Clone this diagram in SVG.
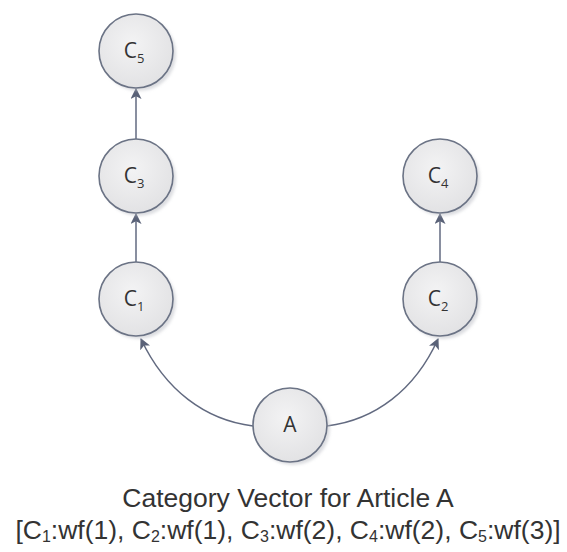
<svg xmlns="http://www.w3.org/2000/svg" width="567" height="552" viewBox="0 0 567 552">
<style>
.node circle.c{fill:url(#g);stroke:#6b7385;stroke-width:1.6}
.node circle.s{fill:#bfc1c8;opacity:0.55;filter:url(#blur)}
.node text{font-family:"Open Sans","Liberation Sans",sans-serif;font-size:21px;fill:#333;text-anchor:middle}
.node tspan.sub{font-size:13px}
.edge{fill:none;stroke:#626a80;stroke-width:1.5;marker-end:url(#ar)}
.cap{font-family:"Liberation Sans",Arial,sans-serif;font-size:26.5px;fill:#333;text-anchor:middle}
.cap tspan.sub{font-size:16px}
</style>
<defs>
<radialGradient id="g" cx="0.45" cy="0.4" r="0.65">
<stop offset="0" stop-color="#f3f3f4"/>
<stop offset="1" stop-color="#e1e1e3"/>
</radialGradient>
<filter id="blur" x="-20%" y="-20%" width="140%" height="140%"><feGaussianBlur stdDeviation="1.5"/></filter>
<marker id="ar" viewBox="0 0 10 10" refX="9" refY="5" markerWidth="11" markerHeight="11" markerUnits="userSpaceOnUse" orient="auto">
<path d="M0,0 L10,5 L0,10 L2.5,5 Z" fill="#5a6278"/>
</marker>
</defs>
<rect width="567" height="552" fill="#fff"/>
<g id="connectors">
<line class="edge" x1="136" y1="139" x2="136" y2="89"/>
<line class="edge" x1="136" y1="262" x2="136" y2="214"/>
<line class="edge" x1="440" y1="262" x2="440" y2="214"/>
<path class="edge" d="M253,426 C205,420 165,390 141,339"/>
<path class="edge" d="M327,426 C375,420 415,390 438,339"/>
</g>
<g id="C5" class="node"><circle class="s" cx="139" cy="54" r="37"/><circle class="c" cx="136" cy="51" r="37"/><text x="134" y="58">C<tspan class="sub" dy="5">5</tspan></text></g>
<g id="C3" class="node"><circle class="s" cx="139" cy="179" r="37"/><circle class="c" cx="136" cy="176" r="37"/><text x="134" y="183">C<tspan class="sub" dy="5">3</tspan></text></g>
<g id="C1" class="node"><circle class="s" cx="139" cy="302" r="37"/><circle class="c" cx="136" cy="299" r="37"/><text x="134" y="306">C<tspan class="sub" dy="5">1</tspan></text></g>
<g id="C4" class="node"><circle class="s" cx="443" cy="179" r="37"/><circle class="c" cx="440" cy="176" r="37"/><text x="438" y="183">C<tspan class="sub" dy="5">4</tspan></text></g>
<g id="C2" class="node"><circle class="s" cx="443" cy="302" r="37"/><circle class="c" cx="440" cy="299" r="37"/><text x="438" y="306">C<tspan class="sub" dy="5">2</tspan></text></g>
<g id="A" class="node"><circle class="s" cx="293" cy="428" r="37"/><circle class="c" cx="290" cy="425" r="37"/><text x="290" y="432">A</text></g>
<text class="cap" x="288" y="507">Category Vector for Article A</text>
<text class="cap" x="288" y="539">[C<tspan class="sub" dy="3">1</tspan><tspan dy="-3">:wf(1), C</tspan><tspan class="sub" dy="3">2</tspan><tspan dy="-3">:wf(1), C</tspan><tspan class="sub" dy="3">3</tspan><tspan dy="-3">:wf(2), C</tspan><tspan class="sub" dy="3">4</tspan><tspan dy="-3">:wf(2), C</tspan><tspan class="sub" dy="3">5</tspan><tspan dy="-3">:wf(3)]</tspan></text>
</svg>
